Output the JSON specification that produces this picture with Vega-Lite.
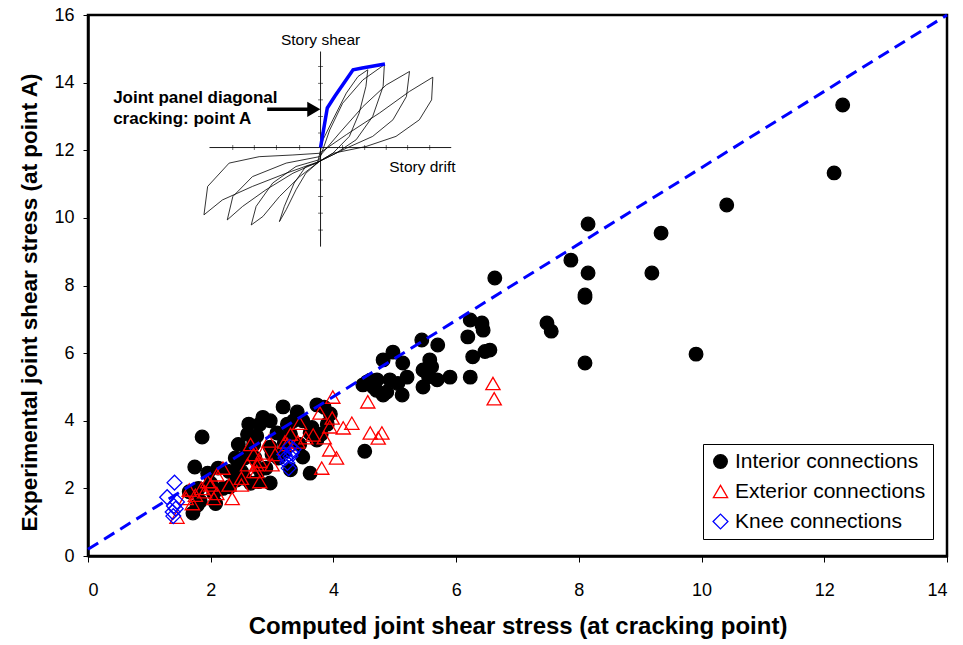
{
  "$schema": "https://vega.github.io/schema/vega-lite/v6.json",
  "width": 859,
  "height": 541,
  "autosize": {"type": "none"},
  "padding": {"left": 88, "top": 15, "right": 16, "bottom": 89},
  "background": "white",
  "config": {
    "font": "Liberation Sans",
    "view": {"stroke": "black", "strokeWidth": 2.5},
    "axis": {
      "grid": false,
      "domainColor": "black",
      "domainWidth": 2.5,
      "tickColor": "black",
      "tickWidth": 1,
      "labelColor": "black",
      "labelFont": "Liberation Sans",
      "labelFontSize": 18,
      "titleColor": "black",
      "titleFont": "Liberation Sans",
      "titleFontWeight": "bold",
      "titleFontSize": 22
    },
    "legend": {
      "orient": "none",
      "legendX": 615,
      "legendY": 429,
      "fillColor": "white",
      "strokeColor": "black",
      "strokeWidth": 1,
      "padding": 7,
      "rowPadding": 8,
      "labelFontSize": 21,
      "labelFont": "Liberation Sans",
      "labelColor": "black",
      "labelOffset": 4,
      "labelLimit": 400,
      "symbolStrokeWidth": 1.3
    }
  },
  "datasets": {
    "loops": [
      {"loop": 1, "i": 0, "x": 3.74, "y": 11.62}, {"loop": 1, "i": 1, "x": 3.83, "y": 12.31}, {"loop": 1, "i": 2, "x": 3.99, "y": 12.9}, {"loop": 1, "i": 3, "x": 4.21, "y": 13.69}, {"loop": 1, "i": 4, "x": 4.4, "y": 14.18}, {"loop": 1, "i": 5, "x": 4.56, "y": 14.38}, {"loop": 1, "i": 6, "x": 4.53, "y": 13.89}, {"loop": 1, "i": 7, "x": 4.42, "y": 13.1}, {"loop": 1, "i": 8, "x": 4.26, "y": 12.41}, {"loop": 1, "i": 9, "x": 3.99, "y": 11.91}, {"loop": 1, "i": 10, "x": 3.77, "y": 11.67}, {"loop": 1, "i": 11, "x": 3.55, "y": 11.32}, {"loop": 1, "i": 12, "x": 3.39, "y": 10.83}, {"loop": 1, "i": 13, "x": 3.23, "y": 10.24}, {"loop": 1, "i": 14, "x": 3.12, "y": 9.89}, {"loop": 1, "i": 15, "x": 3.2, "y": 10.34}, {"loop": 1, "i": 16, "x": 3.36, "y": 11.03}, {"loop": 1, "i": 17, "x": 3.55, "y": 11.52}, {"loop": 1, "i": 18, "x": 3.74, "y": 11.62},
      {"loop": 2, "i": 0, "x": 3.77, "y": 11.72}, {"loop": 2, "i": 1, "x": 3.94, "y": 12.6}, {"loop": 2, "i": 2, "x": 4.15, "y": 13.39}, {"loop": 2, "i": 3, "x": 4.48, "y": 14.08}, {"loop": 2, "i": 4, "x": 4.83, "y": 14.53}, {"loop": 2, "i": 5, "x": 4.81, "y": 13.89}, {"loop": 2, "i": 6, "x": 4.64, "y": 13.0}, {"loop": 2, "i": 7, "x": 4.37, "y": 12.31}, {"loop": 2, "i": 8, "x": 4.04, "y": 11.91}, {"loop": 2, "i": 9, "x": 3.77, "y": 11.67}, {"loop": 2, "i": 10, "x": 3.45, "y": 11.22}, {"loop": 2, "i": 11, "x": 3.12, "y": 10.63}, {"loop": 2, "i": 12, "x": 2.85, "y": 10.04}, {"loop": 2, "i": 13, "x": 2.66, "y": 9.79}, {"loop": 2, "i": 14, "x": 2.74, "y": 10.34}, {"loop": 2, "i": 15, "x": 3.01, "y": 11.03}, {"loop": 2, "i": 16, "x": 3.39, "y": 11.52}, {"loop": 2, "i": 17, "x": 3.77, "y": 11.72},
      {"loop": 3, "i": 0, "x": 3.77, "y": 11.81}, {"loop": 3, "i": 1, "x": 4.1, "y": 12.51}, {"loop": 3, "i": 2, "x": 4.48, "y": 13.29}, {"loop": 3, "i": 3, "x": 4.86, "y": 13.93}, {"loop": 3, "i": 4, "x": 5.24, "y": 14.33}, {"loop": 3, "i": 5, "x": 5.19, "y": 13.59}, {"loop": 3, "i": 6, "x": 4.97, "y": 12.9}, {"loop": 3, "i": 7, "x": 4.64, "y": 12.41}, {"loop": 3, "i": 8, "x": 4.21, "y": 12.06}, {"loop": 3, "i": 9, "x": 3.77, "y": 11.67}, {"loop": 3, "i": 10, "x": 3.34, "y": 11.32}, {"loop": 3, "i": 11, "x": 2.9, "y": 10.83}, {"loop": 3, "i": 12, "x": 2.52, "y": 10.34}, {"loop": 3, "i": 13, "x": 2.27, "y": 9.94}, {"loop": 3, "i": 14, "x": 2.36, "y": 10.63}, {"loop": 3, "i": 15, "x": 2.68, "y": 11.22}, {"loop": 3, "i": 16, "x": 3.23, "y": 11.62}, {"loop": 3, "i": 17, "x": 3.77, "y": 11.81},
      {"loop": 4, "i": 0, "x": 3.77, "y": 11.91}, {"loop": 4, "i": 1, "x": 4.21, "y": 12.46}, {"loop": 4, "i": 2, "x": 4.75, "y": 13.1}, {"loop": 4, "i": 3, "x": 5.24, "y": 13.74}, {"loop": 4, "i": 4, "x": 5.62, "y": 14.16}, {"loop": 4, "i": 5, "x": 5.6, "y": 13.49}, {"loop": 4, "i": 6, "x": 5.4, "y": 12.9}, {"loop": 4, "i": 7, "x": 5.02, "y": 12.41}, {"loop": 4, "i": 8, "x": 4.53, "y": 12.11}, {"loop": 4, "i": 9, "x": 3.99, "y": 11.91}, {"loop": 4, "i": 10, "x": 3.77, "y": 11.67}, {"loop": 4, "i": 11, "x": 3.23, "y": 11.32}, {"loop": 4, "i": 12, "x": 2.68, "y": 10.93}, {"loop": 4, "i": 13, "x": 2.19, "y": 10.53}, {"loop": 4, "i": 14, "x": 1.89, "y": 10.09}, {"loop": 4, "i": 15, "x": 1.95, "y": 10.93}, {"loop": 4, "i": 16, "x": 2.3, "y": 11.62}, {"loop": 4, "i": 17, "x": 2.79, "y": 11.81}, {"loop": 4, "i": 18, "x": 3.34, "y": 11.86}, {"loop": 4, "i": 19, "x": 3.77, "y": 11.91}
    ],
    "envelope": [
      {"i": 0, "x": 3.79, "y": 12.08},
      {"i": 1, "x": 3.9, "y": 13.25},
      {"i": 2, "x": 4.02, "y": 13.59},
      {"i": 3, "x": 4.32, "y": 14.38},
      {"i": 4, "x": 4.47, "y": 14.43},
      {"i": 5, "x": 4.84, "y": 14.55}
    ],
    "connections": [
      {"type": "Interior connections", "x": 1.86, "y": 3.52}, {"type": "Interior connections", "x": 1.74, "y": 2.63}, {"type": "Interior connections", "x": 1.71, "y": 1.27}, {"type": "Interior connections", "x": 1.78, "y": 1.5}, {"type": "Interior connections", "x": 1.83, "y": 1.62}, {"type": "Interior connections", "x": 1.65, "y": 1.9}, {"type": "Interior connections", "x": 1.8, "y": 2.0}, {"type": "Interior connections", "x": 1.95, "y": 2.45}, {"type": "Interior connections", "x": 2.0, "y": 2.15}, {"type": "Interior connections", "x": 2.08, "y": 1.55}, {"type": "Interior connections", "x": 2.05, "y": 1.85}, {"type": "Interior connections", "x": 2.12, "y": 2.6}, {"type": "Interior connections", "x": 2.2, "y": 2.0}, {"type": "Interior connections", "x": 2.31, "y": 2.05}, {"type": "Interior connections", "x": 2.3, "y": 2.5}, {"type": "Interior connections", "x": 2.42, "y": 2.25}, {"type": "Interior connections", "x": 2.45, "y": 2.75}, {"type": "Interior connections", "x": 2.5, "y": 2.5}, {"type": "Interior connections", "x": 2.55, "y": 2.9}, {"type": "Interior connections", "x": 2.4, "y": 2.9}, {"type": "Interior connections", "x": 2.6, "y": 3.05}, {"type": "Interior connections", "x": 2.62, "y": 3.9}, {"type": "Interior connections", "x": 2.7, "y": 3.3}, {"type": "Interior connections", "x": 2.75, "y": 3.55}, {"type": "Interior connections", "x": 2.8, "y": 3.9}, {"type": "Interior connections", "x": 2.85, "y": 4.1}, {"type": "Interior connections", "x": 2.72, "y": 2.9}, {"type": "Interior connections", "x": 2.8, "y": 2.55}, {"type": "Interior connections", "x": 2.78, "y": 2.2}, {"type": "Interior connections", "x": 2.97, "y": 2.16}, {"type": "Interior connections", "x": 2.97, "y": 3.22}, {"type": "Interior connections", "x": 2.97, "y": 4.0}, {"type": "Interior connections", "x": 3.08, "y": 3.64}, {"type": "Interior connections", "x": 3.18, "y": 4.41}, {"type": "Interior connections", "x": 3.25, "y": 3.9}, {"type": "Interior connections", "x": 3.3, "y": 3.6}, {"type": "Interior connections", "x": 3.41, "y": 4.26}, {"type": "Interior connections", "x": 3.35, "y": 4.0}, {"type": "Interior connections", "x": 3.5, "y": 2.93}, {"type": "Interior connections", "x": 3.45, "y": 3.3}, {"type": "Interior connections", "x": 3.62, "y": 2.45}, {"type": "Interior connections", "x": 3.62, "y": 3.64}, {"type": "Interior connections", "x": 3.73, "y": 3.43}, {"type": "Interior connections", "x": 3.73, "y": 4.47}, {"type": "Interior connections", "x": 3.85, "y": 4.4}, {"type": "Interior connections", "x": 3.8, "y": 3.6}, {"type": "Interior connections", "x": 3.9, "y": 3.9}, {"type": "Interior connections", "x": 3.95, "y": 4.2}, {"type": "Interior connections", "x": 3.2, "y": 3.1}, {"type": "Interior connections", "x": 3.3, "y": 2.55}, {"type": "Interior connections", "x": 3.1, "y": 2.9}, {"type": "Interior connections", "x": 2.9, "y": 2.6}, {"type": "Interior connections", "x": 2.55, "y": 2.3}, {"type": "Interior connections", "x": 2.65, "y": 2.15}, {"type": "Interior connections", "x": 3.5, "y": 4.0}, {"type": "Interior connections", "x": 3.65, "y": 3.8}, {"type": "Interior connections", "x": 2.6, "y": 3.6}, {"type": "Interior connections", "x": 2.45, "y": 3.3}, {"type": "Interior connections", "x": 3.0, "y": 3.0}, {"type": "Interior connections", "x": 3.2, "y": 3.35},
      {"type": "Interior connections", "x": 4.51, "y": 3.1}, {"type": "Interior connections", "x": 4.48, "y": 5.06}, {"type": "Interior connections", "x": 4.6, "y": 5.2}, {"type": "Interior connections", "x": 4.65, "y": 5.0}, {"type": "Interior connections", "x": 4.71, "y": 5.21}, {"type": "Interior connections", "x": 4.81, "y": 4.76}, {"type": "Interior connections", "x": 4.81, "y": 5.8}, {"type": "Interior connections", "x": 4.87, "y": 4.85}, {"type": "Interior connections", "x": 4.92, "y": 5.21}, {"type": "Interior connections", "x": 4.97, "y": 6.03}, {"type": "Interior connections", "x": 5.12, "y": 4.76}, {"type": "Interior connections", "x": 5.13, "y": 5.71}, {"type": "Interior connections", "x": 5.2, "y": 5.29}, {"type": "Interior connections", "x": 5.05, "y": 5.1}, {"type": "Interior connections", "x": 4.7, "y": 4.9}, {"type": "Interior connections", "x": 4.55, "y": 5.15},
      {"type": "Interior connections", "x": 5.44, "y": 6.39}, {"type": "Interior connections", "x": 5.46, "y": 5.0}, {"type": "Interior connections", "x": 5.46, "y": 5.5}, {"type": "Interior connections", "x": 5.57, "y": 5.8}, {"type": "Interior connections", "x": 5.69, "y": 5.21}, {"type": "Interior connections", "x": 5.7, "y": 6.24}, {"type": "Interior connections", "x": 5.9, "y": 5.29}, {"type": "Interior connections", "x": 6.23, "y": 5.29}, {"type": "Interior connections", "x": 6.27, "y": 5.89}, {"type": "Interior connections", "x": 6.19, "y": 6.48}, {"type": "Interior connections", "x": 6.23, "y": 6.98}, {"type": "Interior connections", "x": 6.42, "y": 6.83}, {"type": "Interior connections", "x": 6.42, "y": 6.89}, {"type": "Interior connections", "x": 6.44, "y": 6.68}, {"type": "Interior connections", "x": 6.47, "y": 6.05}, {"type": "Interior connections", "x": 6.55, "y": 6.09}, {"type": "Interior connections", "x": 6.63, "y": 8.22}, {"type": "Interior connections", "x": 5.6, "y": 5.6}, {"type": "Interior connections", "x": 5.55, "y": 5.3},
      {"type": "Interior connections", "x": 7.48, "y": 6.89}, {"type": "Interior connections", "x": 7.55, "y": 6.65}, {"type": "Interior connections", "x": 7.87, "y": 8.75}, {"type": "Interior connections", "x": 8.1, "y": 7.72}, {"type": "Interior connections", "x": 8.1, "y": 7.65}, {"type": "Interior connections", "x": 8.15, "y": 8.37}, {"type": "Interior connections", "x": 8.15, "y": 9.82}, {"type": "Interior connections", "x": 8.1, "y": 5.71}, {"type": "Interior connections", "x": 9.19, "y": 8.37}, {"type": "Interior connections", "x": 9.34, "y": 9.55}, {"type": "Interior connections", "x": 9.91, "y": 5.97}, {"type": "Interior connections", "x": 10.41, "y": 10.38}, {"type": "Interior connections", "x": 12.16, "y": 11.33}, {"type": "Interior connections", "x": 12.3, "y": 13.34},
      {"type": "Exterior connections", "x": 6.6, "y": 5.1}, {"type": "Exterior connections", "x": 6.62, "y": 4.65}, {"type": "Exterior connections", "x": 4.56, "y": 4.56}, {"type": "Exterior connections", "x": 4.6, "y": 3.64}, {"type": "Exterior connections", "x": 4.79, "y": 3.64}, {"type": "Exterior connections", "x": 4.73, "y": 3.49}, {"type": "Exterior connections", "x": 4.3, "y": 3.93}, {"type": "Exterior connections", "x": 4.16, "y": 3.79}, {"type": "Exterior connections", "x": 3.99, "y": 4.7}, {"type": "Exterior connections", "x": 3.98, "y": 4.08}, {"type": "Exterior connections", "x": 3.78, "y": 4.23}, {"type": "Exterior connections", "x": 3.94, "y": 3.82}, {"type": "Exterior connections", "x": 3.94, "y": 3.14}, {"type": "Exterior connections", "x": 4.05, "y": 2.9}, {"type": "Exterior connections", "x": 3.81, "y": 2.6}, {"type": "Exterior connections", "x": 3.67, "y": 3.58}, {"type": "Exterior connections", "x": 3.45, "y": 3.93}, {"type": "Exterior connections", "x": 3.42, "y": 3.37}, {"type": "Exterior connections", "x": 3.21, "y": 3.37}, {"type": "Exterior connections", "x": 3.55, "y": 3.5}, {"type": "Exterior connections", "x": 3.3, "y": 3.6}, {"type": "Exterior connections", "x": 3.25, "y": 3.3}, {"type": "Exterior connections", "x": 3.05, "y": 3.0}, {"type": "Exterior connections", "x": 3.0, "y": 2.7}, {"type": "Exterior connections", "x": 2.85, "y": 3.05}, {"type": "Exterior connections", "x": 2.75, "y": 2.5}, {"type": "Exterior connections", "x": 2.7, "y": 2.5}, {"type": "Exterior connections", "x": 2.8, "y": 2.8}, {"type": "Exterior connections", "x": 2.7, "y": 3.0}, {"type": "Exterior connections", "x": 2.65, "y": 3.3}, {"type": "Exterior connections", "x": 2.95, "y": 3.4}, {"type": "Exterior connections", "x": 2.6, "y": 2.7}, {"type": "Exterior connections", "x": 2.5, "y": 2.3}, {"type": "Exterior connections", "x": 2.35, "y": 1.7}, {"type": "Exterior connections", "x": 2.3, "y": 2.1}, {"type": "Exterior connections", "x": 2.2, "y": 2.6}, {"type": "Exterior connections", "x": 2.1, "y": 2.4}, {"type": "Exterior connections", "x": 2.0, "y": 2.1}, {"type": "Exterior connections", "x": 1.95, "y": 2.2}, {"type": "Exterior connections", "x": 1.9, "y": 1.9}, {"type": "Exterior connections", "x": 1.85, "y": 2.0}, {"type": "Exterior connections", "x": 1.75, "y": 1.8}, {"type": "Exterior connections", "x": 1.7, "y": 1.55}, {"type": "Exterior connections", "x": 1.6, "y": 1.7}, {"type": "Exterior connections", "x": 1.45, "y": 1.15}, {"type": "Exterior connections", "x": 2.05, "y": 1.7}, {"type": "Exterior connections", "x": 2.1, "y": 1.85}, {"type": "Exterior connections", "x": 2.5, "y": 2.1}, {"type": "Exterior connections", "x": 1.65, "y": 1.95}, {"type": "Exterior connections", "x": 2.8, "y": 2.2}, {"type": "Exterior connections", "x": 2.75, "y": 2.7}, {"type": "Exterior connections", "x": 3.85, "y": 3.5},
      {"type": "Knee connections", "x": 1.41, "y": 2.17}, {"type": "Knee connections", "x": 1.29, "y": 1.74}, {"type": "Knee connections", "x": 1.4, "y": 1.48}, {"type": "Knee connections", "x": 1.39, "y": 1.18}, {"type": "Knee connections", "x": 1.45, "y": 1.6}, {"type": "Knee connections", "x": 1.38, "y": 1.3}, {"type": "Knee connections", "x": 1.43, "y": 1.4}, {"type": "Knee connections", "x": 3.29, "y": 3.23}, {"type": "Knee connections", "x": 3.27, "y": 2.6}, {"type": "Knee connections", "x": 3.22, "y": 2.9}, {"type": "Knee connections", "x": 3.32, "y": 3.05}, {"type": "Knee connections", "x": 3.35, "y": 3.15}, {"type": "Knee connections", "x": 3.25, "y": 2.75}, {"type": "Knee connections", "x": 3.3, "y": 2.95}, {"type": "Knee connections", "x": 3.2, "y": 3.0}
    ]
  },
  "layer": [
    {
      "data": {"name": "loops"},
      "mark": {"type": "line", "color": "black", "strokeWidth": 0.8},
      "encoding": {
        "x": {
          "field": "x", "type": "quantitative",
          "scale": {"domain": [0, 14], "nice": false, "zero": false},
          "axis": {"values": [0, 2, 4, 6, 8, 10, 12, 14], "format": "d", "tickSize": 6, "labelPadding": 19, "title": "Computed joint shear stress (at cracking point)", "titleFontSize": 24, "titlePadding": 15}
        },
        "y": {
          "field": "y", "type": "quantitative",
          "scale": {"domain": [0, 16], "nice": false, "zero": false},
          "axis": {"values": [0, 2, 4, 6, 8, 10, 12, 14, 16], "format": "d", "tickSize": 5, "labelPadding": 9, "title": "Experimental joint shear stress (at point A)", "titleFontSize": 22.5, "titlePadding": 12, "titleY": 287}
        },
        "detail": {"field": "loop"},
        "order": {"field": "i", "type": "quantitative"}
      }
    },
    {
      "data": {"values": [{"x": 3.79, "y": 9.15, "y2": 14.92}]},
      "mark": {"type": "rule", "color": "black", "strokeWidth": 0.9},
      "encoding": {
        "x": {"field": "x", "type": "quantitative"},
        "y": {"field": "y", "type": "quantitative"},
        "y2": {"field": "y2"}
      }
    },
    {
      "data": {"values": [{"x": 1.98, "x2": 5.92, "y": 12.08}]},
      "mark": {"type": "rule", "color": "black", "strokeWidth": 0.9},
      "encoding": {
        "x": {"field": "x", "type": "quantitative"},
        "x2": {"field": "x2"},
        "y": {"field": "y", "type": "quantitative"}
      }
    },
    {
      "data": {"values": [{"x": 3.79, "y": 14.48}, {"x": 3.79, "y": 13.98}, {"x": 3.79, "y": 13.49}, {"x": 3.79, "y": 13.0}, {"x": 3.79, "y": 12.51}, {"x": 3.79, "y": 11.12}, {"x": 3.79, "y": 10.63}, {"x": 3.79, "y": 10.14}, {"x": 3.79, "y": 9.64}]},
      "mark": {"type": "tick", "orient": "horizontal", "color": "black", "size": 5, "thickness": 0.8},
      "encoding": {
        "x": {"field": "x", "type": "quantitative"},
        "y": {"field": "y", "type": "quantitative"}
      }
    },
    {
      "data": {"values": [{"x": 2.36, "y": 12.08}, {"x": 2.71, "y": 12.08}, {"x": 3.07, "y": 12.08}, {"x": 3.45, "y": 12.08}, {"x": 4.15, "y": 12.08}, {"x": 4.51, "y": 12.08}, {"x": 4.86, "y": 12.08}, {"x": 5.21, "y": 12.08}, {"x": 5.57, "y": 12.08}]},
      "mark": {"type": "tick", "orient": "vertical", "color": "black", "size": 5, "thickness": 0.8},
      "encoding": {
        "x": {"field": "x", "type": "quantitative"},
        "y": {"field": "y", "type": "quantitative"}
      }
    },
    {
      "data": {"name": "envelope"},
      "mark": {"type": "line", "color": "#0000ff", "strokeWidth": 3.5},
      "encoding": {
        "x": {"field": "x", "type": "quantitative"},
        "y": {"field": "y", "type": "quantitative"},
        "order": {"field": "i", "type": "quantitative"}
      }
    },
    {
      "data": {"values": [{"x": 2.92, "x2": 3.6, "y": 13.21}]},
      "mark": {"type": "rule", "color": "black", "strokeWidth": 3.5},
      "encoding": {
        "x": {"field": "x", "type": "quantitative"},
        "x2": {"field": "x2"},
        "y": {"field": "y", "type": "quantitative"}
      }
    },
    {
      "data": {"values": [{"x": 3.68, "y": 13.21}]},
      "mark": {"type": "point", "shape": "triangle-right", "filled": true, "color": "black", "opacity": 1, "size": 230},
      "encoding": {
        "x": {"field": "x", "type": "quantitative"},
        "y": {"field": "y", "type": "quantitative"}
      }
    },
    {
      "data": {"values": [
        {"x": 0.41, "y": 13.39, "label": "Joint panel diagonal"},
        {"x": 0.41, "y": 12.77, "label": "cracking: point A"}
      ]},
      "mark": {"type": "text", "align": "left", "baseline": "alphabetic", "fontSize": 17, "fontWeight": "bold", "color": "black", "font": "Liberation Sans"},
      "encoding": {
        "x": {"field": "x", "type": "quantitative"},
        "y": {"field": "y", "type": "quantitative"},
        "text": {"field": "label"}
      }
    },
    {
      "data": {"values": [{"x": 3.79, "y": 15.1, "label": "Story shear"}]},
      "mark": {"type": "text", "align": "center", "baseline": "alphabetic", "fontSize": 15.5, "color": "black", "font": "Liberation Sans"},
      "encoding": {
        "x": {"field": "x", "type": "quantitative"},
        "y": {"field": "y", "type": "quantitative"},
        "text": {"field": "label"}
      }
    },
    {
      "data": {"values": [{"x": 4.91, "y": 11.37, "label": "Story drift"}]},
      "mark": {"type": "text", "align": "left", "baseline": "alphabetic", "fontSize": 15.5, "color": "black", "font": "Liberation Sans"},
      "encoding": {
        "x": {"field": "x", "type": "quantitative"},
        "y": {"field": "y", "type": "quantitative"},
        "text": {"field": "label"}
      }
    },
    {
      "data": {"name": "connections"},
      "mark": {"type": "point", "strokeWidth": 1.3, "opacity": 1, "fillOpacity": 1},
      "encoding": {
        "x": {"field": "x", "type": "quantitative"},
        "y": {"field": "y", "type": "quantitative"},
        "shape": {"field": "type", "type": "nominal", "title": null, "scale": {"domain": ["Interior connections", "Exterior connections", "Knee connections"], "range": ["circle", "triangle-up", "diamond"]}},
        "stroke": {"field": "type", "type": "nominal", "title": null, "scale": {"domain": ["Interior connections", "Exterior connections", "Knee connections"], "range": ["black", "#ff0000", "#0000ff"]}},
        "fill": {"field": "type", "type": "nominal", "title": null, "scale": {"domain": ["Interior connections", "Exterior connections", "Knee connections"], "range": ["black", "transparent", "transparent"]}},
        "size": {"field": "type", "type": "nominal", "title": null, "scale": {"domain": ["Interior connections", "Exterior connections", "Knee connections"], "range": [185, 220, 160]}}
      }
    },
    {
      "data": {"values": [{"x": 0, "y": 0.2}, {"x": 14, "y": 16}]},
      "mark": {"type": "line", "color": "#0000ff", "strokeWidth": 3, "strokeDash": [12, 7]},
      "encoding": {
        "x": {"field": "x", "type": "quantitative"},
        "y": {"field": "y", "type": "quantitative"}
      }
    }
  ]
}
